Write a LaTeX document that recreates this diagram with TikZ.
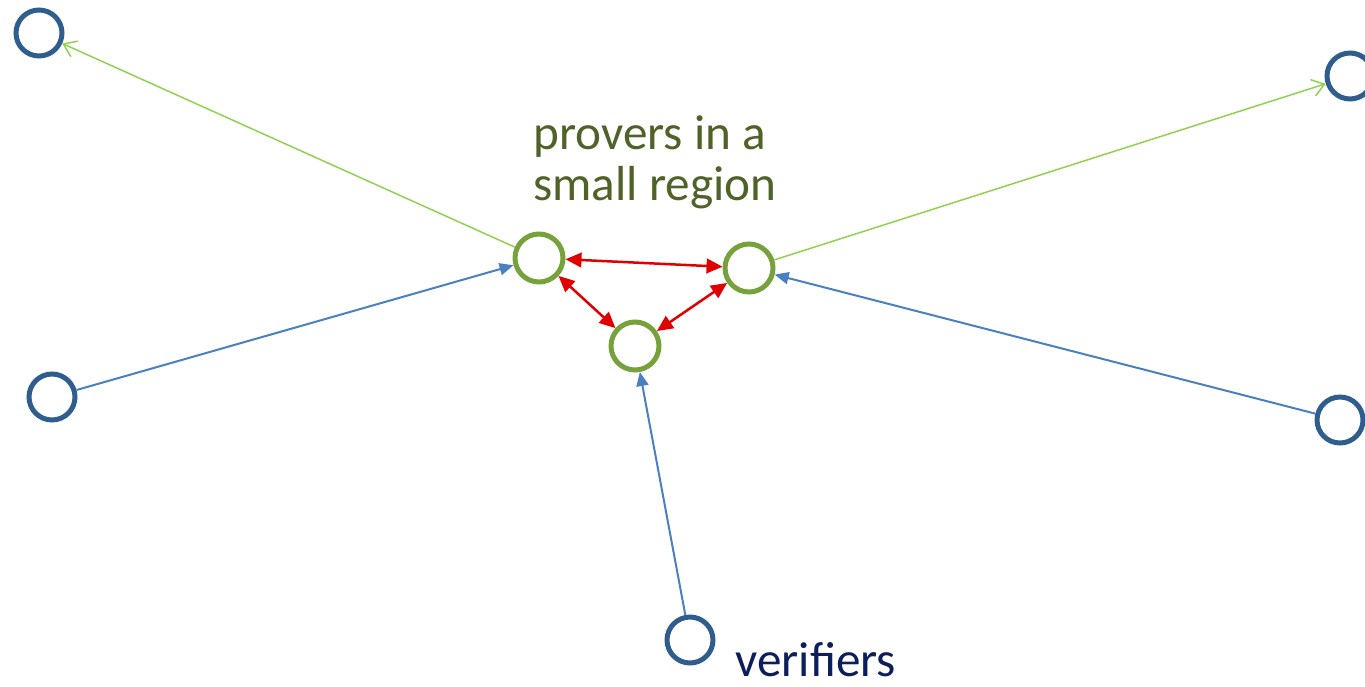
\documentclass[tikz,border=0pt]{standalone}
\usepackage{fontspec}
\setmainfont{Carlito}
\usetikzlibrary{arrows.meta}
\definecolor{verblue}{HTML}{2F5E8E}
\definecolor{provgreen}{HTML}{77A23B}
\definecolor{linkblue}{HTML}{4A80C2}
\definecolor{linkgreen}{HTML}{92D050}
\definecolor{linkred}{HTML}{E00000}
\definecolor{textgreen}{HTML}{4F6228}
\definecolor{textnavy}{HTML}{0E1E5B}

\begin{document}
\begin{tikzpicture}[x=0.02cm,y=-0.02cm,
    verifier/.style={circle,draw=verblue,line width=0.1cm,minimum size=0.92cm,inner sep=0},
    prover/.style={circle,draw=provgreen,line width=0.1cm,minimum size=0.96cm,inner sep=0},
    query/.style={draw=linkblue,line width=0.04cm,-{Triangle[length=0.28cm,width=0.24cm]}},
    answer/.style={draw=linkgreen,line width=0.03cm,-{Straight Barb[length=0.24cm,width=0.34cm]}},
    talk/.style={draw=linkred,line width=0.05cm,{Triangle[length=0.32cm,width=0.29cm]}-{Triangle[length=0.32cm,width=0.29cm]}},
    lbl/.style={inner sep=0,font=\fontsize{28pt}{29pt}\selectfont}]
  \useasboundingbox (0,0) rectangle (1365,686);

  % verifiers round the edge
  \node[verifier] (vtl) at (39,33) {};
  \node[verifier] (vtr) at (1350,76) {};
  \node[verifier] (vl) at (52,397) {};
  \node[verifier] (vr) at (1340,420) {};
  \node[verifier] (vb) at (690,640) {};

  % provers close together
  \node[prover] (pa) at (539,258) {};
  \node[prover] (pb) at (749,268) {};
  \node[prover] (pc) at (635,346) {};

  \draw[query] (vl) -- (pa);
  \draw[query] (vr) -- (pb);
  \draw[query] (vb) -- (pc);
  \draw[answer] (pa) -- (vtl);
  \draw[answer] (pb) -- (vtr);
  \draw[talk] (pa) -- (pb);
  \draw[talk] (pa) -- (pc);
  \draw[talk] (pb) -- (pc);

  % base of a two-line node sits on its last line
  \node[lbl,text=textgreen,align=left,anchor=base west] (provlbl) at (533,200) {provers in a\\small region};
  \node[lbl,text=textnavy,anchor=base west] (verlbl) at (735,676) {verifiers};
\end{tikzpicture}
\end{document}
